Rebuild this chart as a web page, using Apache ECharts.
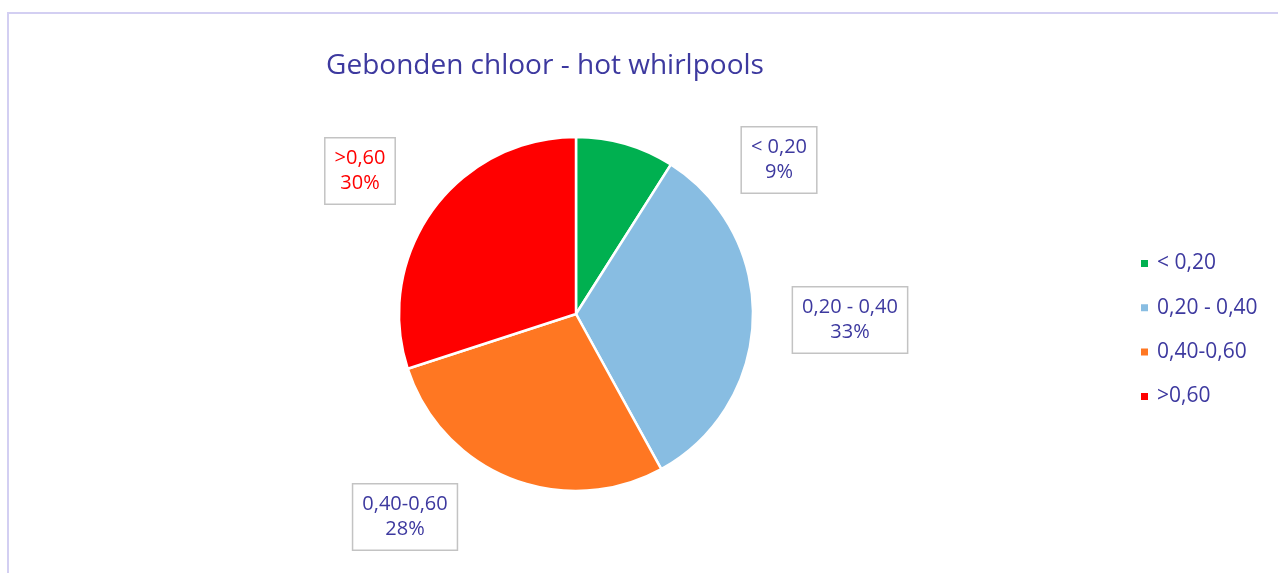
<!DOCTYPE html>
<html>
<head>
<meta charset="utf-8">
<script src="https://cdn.jsdelivr.net/npm/echarts@6/dist/echarts.min.js"></script>
<style>
  html, body { margin: 0; padding: 0; background: #ffffff; }
  #frame { position: absolute; left: 7px; top: 12px; right: -2px; bottom: -2px; border: 2px solid #d3cff2; }
  #chart { width: 1278px; height: 573px; }
</style>
</head>
<body>
<div id="frame"></div>
<div id="chart"></div>
<script>
const TITLE = 'Gebonden chloor - hot whirlpools';
const categories = ['< 0,20', '0,20 - 0,40', '0,40-0,60', '>0,60'];
const shares = [9, 33, 28, 30];
const colors = ['#00b050', '#88bde2', '#ff7722', '#ff0000'];
const labelColors = ['#3d399f', '#3d399f', '#3d399f', '#ff0000'];

// where Excel parked the data labels (box centres)
const LABEL_POS = [[779, 160], [850, 320], [405, 517], [360, 171]];

const TEXT = '#3d399f';
const FONT = '"Open Sans", "Noto Sans", sans-serif';

const chart = echarts.init(document.getElementById('chart'));

chart.setOption({
  animation: false,
  title: {
    text: TITLE,
    left: 540,
    top: 47,
    textAlign: 'center',
    textStyle: { color: TEXT, fontSize: 28, fontWeight: 'normal', fontFamily: FONT }
  },
  legend: {
    orient: 'vertical',
    left: 1139,
    top: 253,
    padding: 0,
    itemWidth: 9,
    itemHeight: 9,
    itemGap: 23.3,
    icon: 'rect',
    data: categories,
    textStyle: { color: TEXT, fontSize: 21, fontFamily: FONT, padding: [0, 0, 0, 3] }
  },
  series: [
    {
      type: 'pie',
      center: [576, 314],
      radius: 177,
      startAngle: 90,
      clockwise: true,
      itemStyle: { borderColor: '#ffffff', borderWidth: 2.5 },
      labelLine: { show: false },
      label: {
        show: true,
        position: 'outside',
        formatter: '{b}\n{c}%',
        fontSize: 20,
        lineHeight: 25,
        fontFamily: FONT,
        backgroundColor: '#ffffff',
        borderColor: '#c3c3c3',
        borderWidth: 1.5,
        padding: [8, 9, 7, 9],
        align: 'center'
      },
      labelLayout: function (params) {
        const p = LABEL_POS[params.dataIndex];
        return { x: p[0], y: p[1], align: 'center', verticalAlign: 'middle' };
      },
      data: categories.map((name, i) => ({
        name: name,
        value: shares[i],
        itemStyle: { color: colors[i] },
        label: { color: labelColors[i] }
      }))
    }
  ]
});
</script>
</body>
</html>
